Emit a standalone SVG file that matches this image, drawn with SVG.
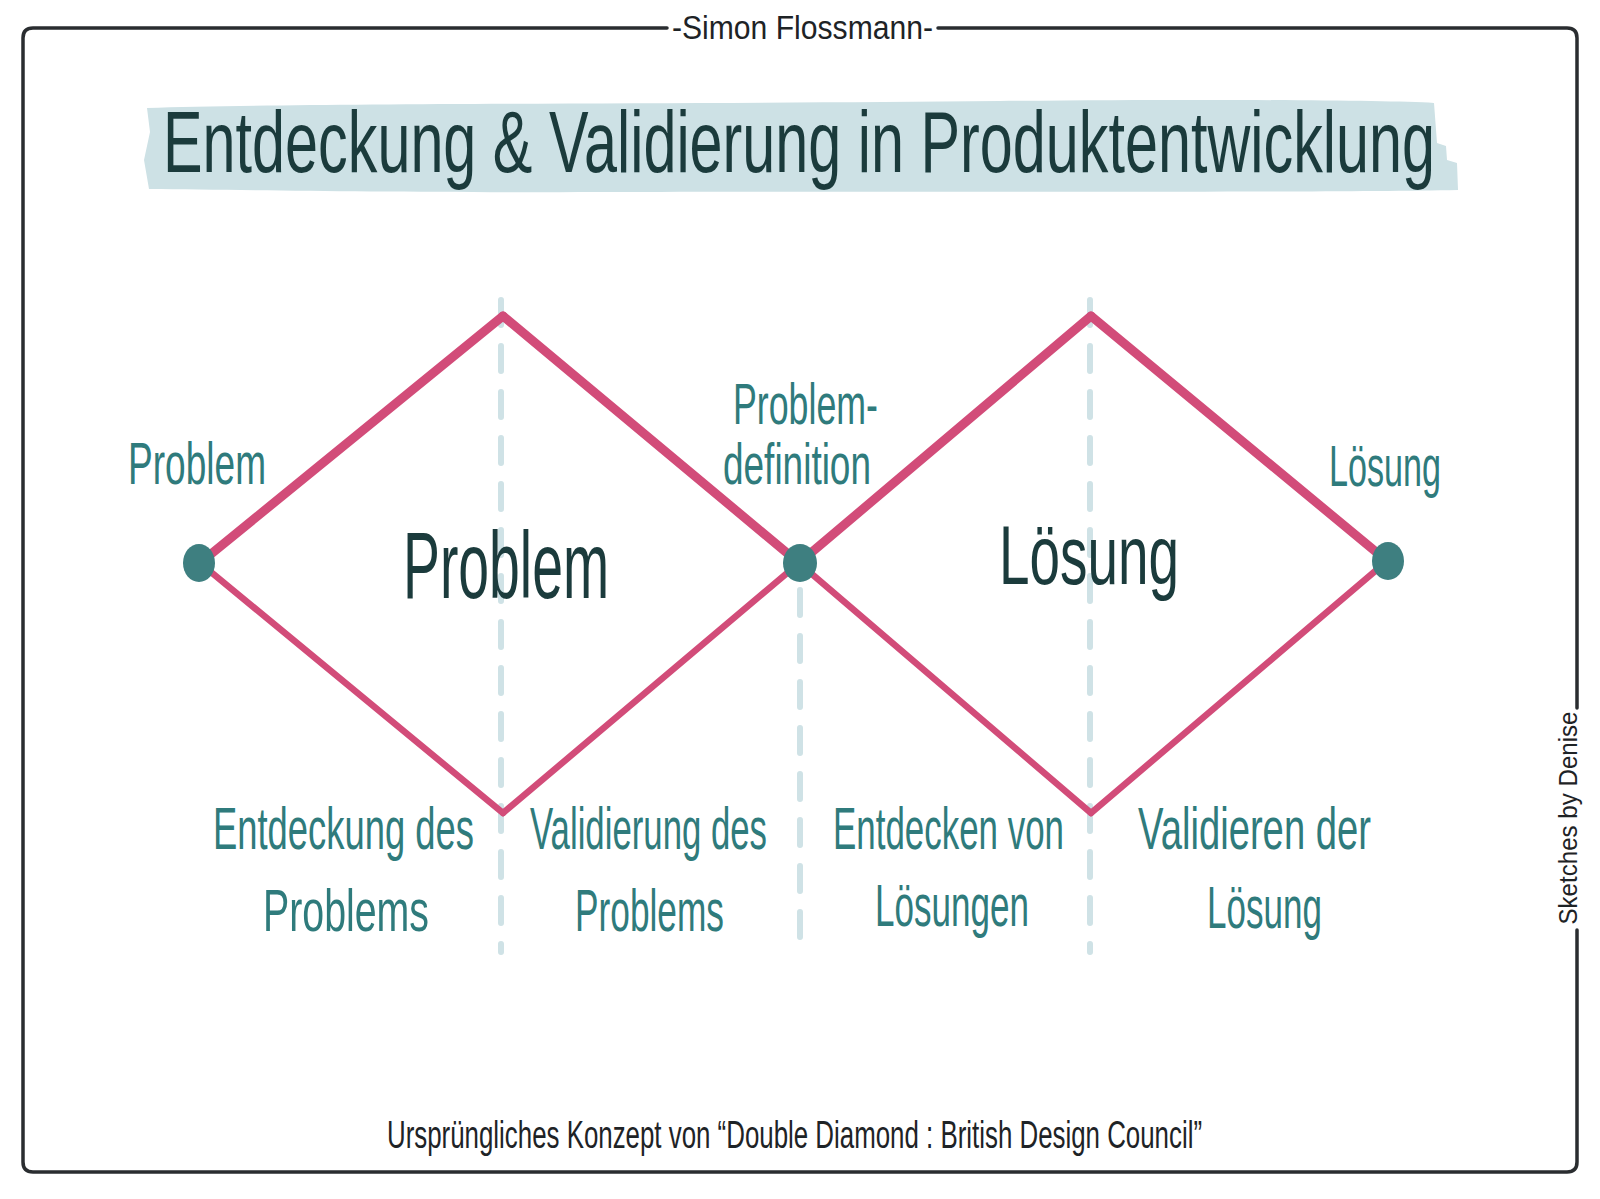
<svg xmlns="http://www.w3.org/2000/svg" width="1600" height="1199" viewBox="0 0 1600 1199">
<style>
  .hand { font-family: "Liberation Sans", Arial, sans-serif; }
  .dark { fill: #1b3b3c; }
  .teal { fill: #2f7b7c; }
  .ink { fill: #1e2326; }
  .frame { fill: none; stroke: #2a2d30; stroke-width: 3.5; stroke-linecap: round; stroke-linejoin: round; }
  .guide { stroke: #cfe2e6; stroke-width: 6; stroke-linecap: round; stroke-dasharray: 25 21; fill: none; }
  .upper { stroke: #d24c79; stroke-width: 9; stroke-linecap: round; fill: none; }
  .lower { stroke: #d24c79; stroke-width: 6.5; stroke-linecap: round; fill: none; }
  .dot { fill: #3e7f80; }
</style>
<rect width="1600" height="1199" fill="#ffffff"/>

<g id="frame">
  <path class="frame" d="M667,28 L33,28 Q23,28 23,38 L23,1162 Q23,1172 33,1172 L1567,1172 Q1577,1172 1577,1162 L1577,930"/>
  <path class="frame" d="M938,28 L1567,28 Q1577,28 1577,38 L1577,708"/>
  <text class="hand ink" x="672" y="39" font-size="34" textLength="261" lengthAdjust="spacingAndGlyphs">-Simon Flossmann-</text>
  <text class="hand ink" transform="translate(1577,818) rotate(-90)" text-anchor="middle" font-size="26" textLength="213" lengthAdjust="spacingAndGlyphs">Sketches by Denise</text>
</g>

<g id="title">
  <path fill="#cde1e5" d="M147,108 C300,103 700,104 1000,101 C1200,99 1380,100 1434,103 L1437,143 L1446,146 L1447,160 L1457,163 L1458,190 C1300,193 900,191 600,192 C400,193 250,190 149,189 L144,160 L150,132 Z"/>
  <text class="hand dark" x="163" y="172" font-size="88" textLength="1272" lengthAdjust="spacingAndGlyphs">Entdeckung &amp; Validierung in Produktentwicklung</text>
</g>

<g id="guides">
  <line class="guide" x1="501" y1="300" x2="501" y2="952"/>
  <line class="guide" x1="800" y1="590" x2="800" y2="940"/>
  <line class="guide" x1="1090" y1="300" x2="1090" y2="952"/>
</g>

<g id="connectors">
  <line class="upper" x1="200" y1="563" x2="503" y2="316"/>
  <line class="upper" x1="503" y1="316" x2="799" y2="563"/>
  <line class="lower" x1="200" y1="563" x2="503" y2="813"/>
  <line class="lower" x1="503" y1="813" x2="799" y2="563"/>
  <line class="upper" x1="799" y1="563" x2="1091" y2="316"/>
  <line class="upper" x1="1091" y1="316" x2="1387" y2="561"/>
  <line class="lower" x1="799" y1="563" x2="1091" y2="813"/>
  <line class="lower" x1="1091" y1="813" x2="1387" y2="561"/>
</g>

<g id="node-start">
  <ellipse class="dot" cx="199" cy="563" rx="16" ry="19"/>
  <text class="hand teal" x="128" y="484" font-size="60" textLength="138" lengthAdjust="spacingAndGlyphs">Problem</text>
</g>

<g id="node-problem">
  <text class="hand dark" x="403" y="598" font-size="94" textLength="206" lengthAdjust="spacingAndGlyphs">Problem</text>
</g>

<g id="node-definition">
  <ellipse class="dot" cx="800" cy="563" rx="17" ry="19"/>
  <text class="hand teal" x="733" y="424" font-size="58" textLength="145" lengthAdjust="spacingAndGlyphs">Problem-</text>
  <text class="hand teal" x="723" y="484" font-size="58" textLength="148" lengthAdjust="spacingAndGlyphs">definition</text>
</g>

<g id="node-loesung">
  <text class="hand dark" x="999" y="584" font-size="84" textLength="180" lengthAdjust="spacingAndGlyphs">Lösung</text>
</g>

<g id="node-end">
  <ellipse class="dot" cx="1388" cy="561" rx="16" ry="19"/>
  <text class="hand teal" x="1329" y="486" font-size="58" textLength="112" lengthAdjust="spacingAndGlyphs">Lösung</text>
</g>

<g id="phase-1">
  <text class="hand teal" x="213" y="849" font-size="60" textLength="261" lengthAdjust="spacingAndGlyphs">Entdeckung des</text>
  <text class="hand teal" x="263" y="931" font-size="60" textLength="166" lengthAdjust="spacingAndGlyphs">Problems</text>
</g>

<g id="phase-2">
  <text class="hand teal" x="530" y="849" font-size="60" textLength="237" lengthAdjust="spacingAndGlyphs">Validierung des</text>
  <text class="hand teal" x="575" y="931" font-size="60" textLength="149" lengthAdjust="spacingAndGlyphs">Problems</text>
</g>

<g id="phase-3">
  <text class="hand teal" x="833" y="849" font-size="60" textLength="231" lengthAdjust="spacingAndGlyphs">Entdecken von</text>
  <text class="hand teal" x="875" y="926" font-size="60" textLength="154" lengthAdjust="spacingAndGlyphs">Lösungen</text>
</g>

<g id="phase-4">
  <text class="hand teal" x="1138" y="849" font-size="60" textLength="233" lengthAdjust="spacingAndGlyphs">Validieren der</text>
  <text class="hand teal" x="1207" y="928" font-size="60" textLength="115" lengthAdjust="spacingAndGlyphs">Lösung</text>
</g>

<g id="credit">
  <text class="hand ink" x="387" y="1148" font-size="38" textLength="815" lengthAdjust="spacingAndGlyphs">Ursprüngliches Konzept von “Double Diamond : British Design Council”</text>
</g>
</svg>
